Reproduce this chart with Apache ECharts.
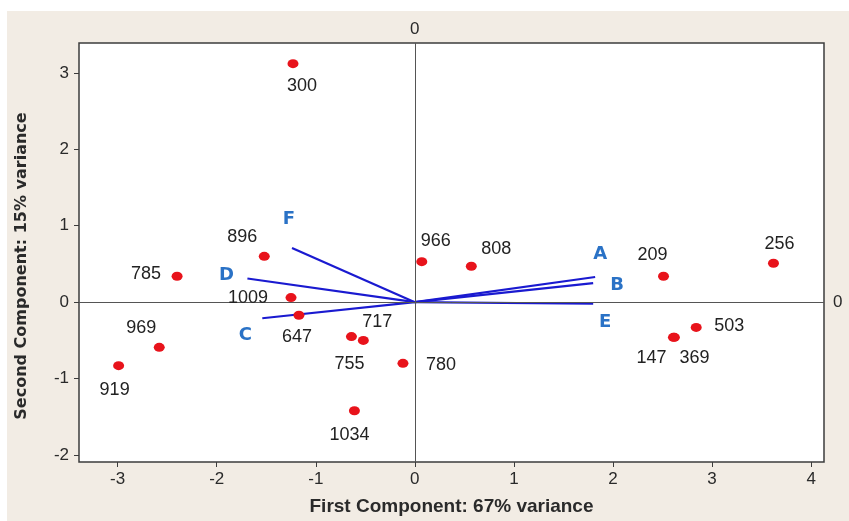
<!DOCTYPE html>
<html>
<head>
<meta charset="utf-8">
<script src="https://cdn.jsdelivr.net/npm/echarts@6/dist/echarts.min.js"></script>
<style>
  html, body { margin: 0; padding: 0; background: #ffffff; }
  #chart { width: 849px; height: 521px; }
</style>
</head>
<body>
<div id="chart"></div>
<script>
// PCA biplot: sample scores (red points) and variable loadings (blue vectors)
const sampleIds = ['300', '896', '785', '1009', '647', '969', '919', '755', '717', '780',
                   '1034', '966', '808', '209', '256', '503', '147', '369'];
const scorePC1 = [-1.23, -1.52, -2.40, -1.25, -1.17, -2.58, -2.99, -0.64, -0.52, -0.12,
                  -0.61, 0.07, 0.57, 2.51, 3.62, 2.84, 2.61, 2.62];
const scorePC2 = [3.12, 0.60, 0.34, 0.06, -0.17, -0.59, -0.83, -0.45, -0.50, -0.80,
                  -1.42, 0.53, 0.47, 0.34, 0.51, -0.33, -0.46, -0.46];

const loadingNames = ['A', 'B', 'C', 'D', 'E', 'F'];
const loadingPC1 = [1.82, 1.80, -1.54, -1.69, 1.80, -1.24];
const loadingPC2 = [0.33, 0.25, -0.21, 0.31, -0.02, 0.71];

const xTicks = [-3, -2, -1, 0, 1, 2, 3, 4];
const yTicks = [-2, -1, 0, 1, 2, 3];
const refTicks = [0];

const xTitle = 'First Component: 67% variance';
const yTitle = 'Second Component: 15% variance';

// label placement around each marker, in pixels
const sampleLabelOffset = {
  '300': [9, 22], '896': [-22, -19], '785': [-31, -2], '1009': [-43, 0],
  '647': [-2, 22], '969': [-18, -19], '919': [-4, 24], '717': [14, -18],
  '755': [-2, 27], '780': [38, 2], '1034': [-5, 24], '966': [14, -21],
  '808': [25, -17], '209': [-11, -21], '256': [6, -19], '503': [33, -1],
  '147': [-22, 21], '369': [20, 21]
};
const loadingLabelOffset = {
  A: [5, -23], B: [24, 2], C: [-17, 17], D: [-21, -3], E: [12, 19], F: [-3, -29]
};

const X_MIN = -3.39, X_MAX = 4.13, Y_MIN = -2.09, Y_MAX = 3.39;
const tickFont = { fontFamily: 'Liberation Sans', fontSize: 17, color: '#2a2a2a' };

const chart = echarts.init(document.getElementById('chart'), null, { renderer: 'canvas' });

const vectorSeries = loadingNames.map((name, i) => ({
  type: 'line',
  name: name,
  data: [[0, 0], [loadingPC1[i], loadingPC2[i]]],
  symbol: 'none',
  lineStyle: { color: '#1a1ad0', width: 2.2 },
  silent: true,
  z: 3
}));

const option = {
  backgroundColor: '#ffffff',
  animation: false,
  graphic: [
    {
      type: 'rect', z: -10, silent: true,
      shape: { x: 7, y: 11, width: 842, height: 510 },
      style: { fill: '#f2ece4' }
    },
    {
      type: 'text', z: 10, silent: true,
      x: 22, y: 266, rotation: Math.PI / 2,
      style: {
        text: yTitle, align: 'center', verticalAlign: 'middle',
        fontFamily: 'DejaVu Sans', fontWeight: 'bold', fontSize: 16, fill: '#2a2a2a'
      }
    }
  ],
  grid: {
    left: 79, right: 25, top: 43, bottom: 55,
    show: true, backgroundColor: '#ffffff', borderColor: '#3c3c3c', borderWidth: 1.5
  },
  xAxis: [
    {
      type: 'value', min: X_MIN, max: X_MAX, position: 'bottom',
      name: xTitle, nameLocation: 'middle', nameGap: 35,
      nameTextStyle: { fontFamily: 'Liberation Sans', fontWeight: 'bold', fontSize: 19, color: '#2a2a2a' },
      axisLine: { show: false, onZero: false },
      splitLine: { show: false },
      axisTick: { show: true, inside: false, length: 5, customValues: xTicks, lineStyle: { color: '#3c3c3c' } },
      axisLabel: { show: true, margin: 9, customValues: xTicks, ...tickFont }
    },
    {
      type: 'value', min: X_MIN, max: X_MAX, position: 'top',
      axisLine: { show: false, onZero: false }, splitLine: { show: false },
      axisTick: { show: false },
      axisLabel: { show: true, margin: 5, customValues: refTicks, ...tickFont }
    }
  ],
  yAxis: [
    {
      type: 'value', min: Y_MIN, max: Y_MAX, position: 'left',
      axisLine: { show: false, onZero: false },
      splitLine: { show: false },
      axisTick: { show: true, inside: false, length: 5, customValues: yTicks, lineStyle: { color: '#3c3c3c' } },
      axisLabel: { show: true, margin: 10, customValues: yTicks, ...tickFont }
    },
    {
      type: 'value', min: Y_MIN, max: Y_MAX, position: 'right',
      axisLine: { show: false, onZero: false }, splitLine: { show: false },
      axisTick: { show: false },
      axisLabel: { show: true, margin: 9, customValues: refTicks, ...tickFont }
    }
  ],
  series: [
    {
      type: 'scatter',
      name: 'reference',
      data: [],
      silent: true,
      markLine: {
        silent: true,
        symbol: 'none',
        label: { show: false },
        lineStyle: { color: '#555555', width: 1, type: 'solid' },
        data: [{ xAxis: 0 }, { yAxis: 0 }]
      },
      z: 1
    },
    ...vectorSeries,
    {
      type: 'scatter',
      name: 'loadings',
      symbolSize: 1,
      itemStyle: { color: 'rgba(0,0,0,0)', opacity: 1 },
      silent: true,
      data: loadingNames.map((n, i) => ({ name: n, value: [loadingPC1[i], loadingPC2[i]] })),
      label: {
        show: true, position: 'inside', formatter: '{b}',
        fontFamily: 'DejaVu Sans', fontWeight: 'bold', fontSize: 18, color: '#2a72c6'
      },
      labelLayout: (p) => {
        const o = loadingLabelOffset[loadingNames[p.dataIndex]];
        return { dx: o[0], dy: o[1] };
      },
      z: 4
    },
    {
      type: 'scatter',
      name: 'samples',
      symbol: 'circle',
      symbolSize: [11, 9],
      itemStyle: { color: '#e8131b', opacity: 1 },
      silent: true,
      data: sampleIds.map((id, i) => ({ name: id, value: [scorePC1[i], scorePC2[i]] })),
      label: {
        show: true, position: 'inside', formatter: '{b}',
        fontFamily: 'Liberation Sans', fontSize: 18, color: '#222222'
      },
      labelLayout: (p) => {
        const o = sampleLabelOffset[sampleIds[p.dataIndex]];
        return { dx: o[0], dy: o[1], hideOverlap: false };
      },
      z: 5
    }
  ]
};

chart.setOption(option);
</script>
</body>
</html>
